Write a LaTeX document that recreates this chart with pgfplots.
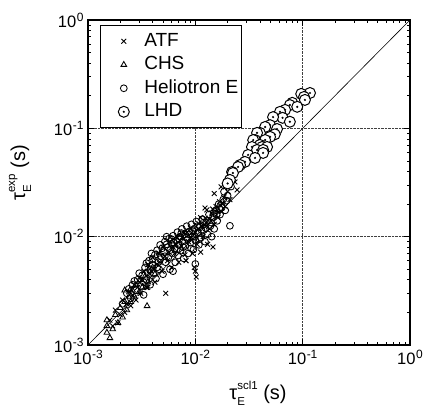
\documentclass[border=0pt]{standalone}
\usepackage{fontspec}
\setmainfont{Liberation Sans}
\usepackage{pgfplots}
\pgfplotsset{compat=1.18}
\usepackage{pgfplotstable}

\newcommand{\tsup}[1]{\kern0.5pt\raisebox{6pt}{\fontsize{12}{12}\selectfont #1}}
\newcommand{\taulab}[1]{τ\rlap{\raisebox{-6pt}{\fontsize{11.5}{12}\selectfont E}}\raisebox{10pt}{\fontsize{11.5}{12}\selectfont #1}\ (s)}

\pgfdeclareplotmark{odot}{%
  \pgfpathcircle{\pgfpointorigin}{\pgfplotmarksize}%
  \pgfusepathqfillstroke
  \begin{pgfscope}%
  \pgfsetfillcolor{black}%
  \pgfpathcircle{\pgfpointorigin}{0.22\pgfplotmarksize}%
  \pgfusepathqfill
  \end{pgfscope}%
}

\pgfplotsset{legimg/.style={legend image code/.code={\path (0pt,0pt) (40pt,0pt); \draw[##1] plot coordinates {(20pt,0pt)};}}}

\pgfplotstableread{
x y
0.0016 0.0017
0.0017 0.0015
0.0018 0.0021
0.0019 0.0016
0.0020 0.0019
0.0021 0.0026
0.0022 0.0020
0.0023 0.0024
0.0024 0.0031
0.0025 0.0023
0.0026 0.0029
0.0027 0.0036
0.0028 0.0026
0.0029 0.0034
0.0030 0.0042
0.0031 0.0030
0.0032 0.0040
0.0033 0.0048
0.0035 0.0034
0.0036 0.0055
0.0036 0.0034
0.0037 0.0046
0.0038 0.0042
0.0040 0.0064
0.0041 0.0050
0.0042 0.0038
0.0044 0.0056
0.0045 0.0071
0.0046 0.0070
0.0047 0.0058
0.0049 0.0048
0.0050 0.0080
0.0052 0.0066
0.0053 0.0030
0.0055 0.0060
0.0057 0.0072
0.0058 0.0090
0.0060 0.0052
0.0062 0.0080
0.0064 0.0070
0.0066 0.0086
0.0068 0.0098
0.0070 0.0058
0.0072 0.0092
0.0074 0.0082
0.0076 0.0100
0.0078 0.0108
0.0080 0.0068
0.0082 0.0060
0.0084 0.0110
0.0086 0.0090
0.0090 0.0120
0.0092 0.0098
0.0094 0.0070
0.0098 0.0052
0.0100 0.0110
0.0102 0.00425
0.0100 0.0048
0.0104 0.0085
0.0106 0.0118
0.0108 0.0132
0.0112 0.0072
0.0115 0.0125
0.0118 0.0100
0.0122 0.0130
0.0123 0.0184
0.0124 0.0148
0.0128 0.0177
0.0130 0.0085
0.0135 0.0145
0.0136 0.0118
0.0142 0.0165
0.0145 0.0180
0.0146 0.00804
0.0150 0.0130
0.0156 0.0190
0.0160 0.0175
0.0162 0.0150
0.0168 0.0210
0.0172 0.0195
0.0174 0.0288
0.0176 0.0170
0.0180 0.0205
0.0184 0.0230
0.0190 0.0190
0.0200 0.0260
0.0210 0.0220
0.0234 0.0320
0.0245 0.0270
0.0150 0.0250
0.0112 0.0150
}\atf

\pgfplotstableread{
x y
0.0015 0.0013
0.0015 0.0015
0.0016 0.00116
0.0015 0.0017
0.0017 0.0014
0.0018 0.0019
0.0019 0.0016
0.0020 0.0022
0.0021 0.0018
0.0022 0.0025
0.0023 0.0021
0.0024 0.0028
0.0025 0.0025
0.0026 0.0032
0.0027 0.0028
0.0028 0.0036
0.0030 0.0031
0.0031 0.0040
0.0032 0.0034
0.0034 0.0043
0.0036 0.0038
0.0038 0.0048
0.00355 0.00229
0.0040 0.0052
0.0042 0.0045
0.0022 0.0032
0.00246 0.0032
}\chs

\pgfplotstableread{
x y
0.0021 0.0024
0.0023 0.0030
0.0024 0.0033
0.0025 0.0027
0.0026 0.0036
0.0027 0.0039
0.0028 0.0032
0.0029 0.0040
0.0030 0.0046
0.0031 0.0035
0.0032 0.0044
0.0033 0.0029
0.0033 0.0038
0.0034 0.0052
0.0035 0.0040
0.0035 0.0057
0.0036 0.0047
0.0037 0.0060
0.0038 0.0036
0.0038 0.0050
0.0039 0.0070
0.0040 0.0055
0.0040 0.0062
0.0041 0.0046
0.0042 0.0068
0.0043 0.0041
0.0044 0.0075
0.0044 0.0052
0.0045 0.0058
0.0046 0.0050
0.0047 0.0084
0.0047 0.0062
0.0048 0.0066
0.0049 0.0078
0.0050 0.0045
0.0051 0.0072
0.0052 0.0090
0.0052 0.0066
0.0053 0.0058
0.0054 0.0100
0.0054 0.0085
0.0055 0.0080
0.0056 0.0064
0.0057 0.0096
0.0058 0.0050
0.0058 0.0075
0.0060 0.0086
0.0060 0.0095
0.0061 0.0070
0.0062 0.0102
0.0062 0.0048
0.0063 0.0088
0.0064 0.0078
0.0065 0.0058
0.0066 0.0092
0.0067 0.0076
0.0068 0.0110
0.0069 0.0067
0.0070 0.0084
0.0071 0.0095
0.0072 0.0100
0.0073 0.0074
0.0074 0.0108
0.0075 0.0118
0.0076 0.0090
0.0077 0.0080
0.0078 0.0063
0.0080 0.0105
0.0081 0.0082
0.0082 0.0098
0.0083 0.0125
0.0085 0.0095
0.0086 0.0070
0.0087 0.0105
0.0088 0.0112
0.0090 0.0088
0.0091 0.0078
0.0092 0.0130
0.0094 0.0100
0.0095 0.0112
0.0096 0.0076
0.0098 0.0118
0.0099 0.0100
0.0100 0.0092
0.0100 0.0056
0.0102 0.0138
0.0104 0.0125
0.0105 0.0108
0.0108 0.0084
0.0109 0.0095
0.0110 0.0125
0.0113 0.0098
0.0114 0.0115
0.0116 0.0145
0.0119 0.0135
0.0120 0.0115
0.0123 0.0090
0.0125 0.0120
0.0126 0.0135
0.0130 0.0105
0.0132 0.0140
0.0134 0.0160
0.0138 0.0125
0.0140 0.0135
0.0142 0.0100
0.0146 0.0150
0.0148 0.0165
0.0150 0.0118
0.0155 0.0175
0.0158 0.0160
0.0160 0.0140
0.0165 0.0200
0.0168 0.0180
0.0170 0.0160
0.0176 0.0185
0.0182 0.0220
0.0185 0.0260
0.0190 0.0175
0.0195 0.0215
0.0200 0.0240
0.0215 0.0290
0.0210 0.0126
}\he

\pgfplotstableread{
x y
0.117 0.212
0.097 0.208
0.103 0.195
0.105 0.183
0.080 0.172
0.076 0.164
0.089 0.158
0.0686 0.148
0.0615 0.142
0.065 0.125
0.053 0.127
0.076 0.115
0.0497 0.107
0.0447 0.103
0.0577 0.0986
0.040 0.0908
0.0376 0.0908
0.055 0.088
0.0497 0.0834
0.036 0.078
0.0447 0.078
0.0346 0.078
0.040 0.0703
0.0337 0.0673
0.0419 0.0673
0.0466 0.0673
0.0376 0.0632
0.0428 0.0632
0.0428 0.0593
0.031 0.0568
0.036 0.0533
0.029 0.049
0.0261 0.0459
0.025 0.044
0.022 0.0396
0.0224 0.0387
0.021 0.0334
0.020 0.031
}\lhd

\begin{document}
\begin{tikzpicture}
\begin{axis}[
  name=ax,
  xmode=log, ymode=log,
  xmin=1e-3, xmax=1, ymin=1e-3, ymax=1,
  scale only axis, width=322pt, height=325pt,
  xtick={1e-3,1e-2,1e-1,1}, ytick={1e-3,1e-2,1e-1,1},
  xticklabels={10\tsup{-3},10\tsup{-2},10\tsup{-1},10\tsup{0}},
  yticklabels={10\tsup{-3},10\tsup{-2},10\tsup{-1},10\tsup{0}},
  ticklabel style={font=\fontsize{16.5}{19}\selectfont},
  xticklabel style={yshift=-2pt},
  yticklabel style={xshift=-1pt},
  tick align=inside,
  major tick length=6pt, minor tick length=3.5pt,
  every tick/.style={black, line width=0.6pt},
  axis line style={line width=1.1pt},
  grid=major,
  major grid style={densely dotted, black!75, line width=0.5pt},
  xlabel={\taulab{scl1}},
  ylabel={\taulab{exp}},
  label style={font=\fontsize{20}{22}\selectfont},
  xlabel style={at={(axis description cs:0.528,-0.169)}, anchor=base},
  ylabel style={at={(axis description cs:-0.211,0.53)}, anchor=center, rotate=0},
  legend style={at={(axis description cs:0.037,0.985)}, anchor=north west,
    draw=black, line width=0.8pt, fill=white, font=\fontsize{19}{21}\selectfont,
    row sep=5.5pt, inner xsep=3pt, inner ysep=7pt,
    nodes={inner sep=0pt, text height=14pt, text depth=4pt}},
  legend cell align=left,
]
\addplot[black, line width=0.6pt, forget plot] coordinates {(0.001,0.001) (1,1)};
\addplot[only marks, mark=x, mark size=3.4pt, black, line width=0.9pt, legimg] table {\atf};
\addplot[only marks, mark=triangle, mark size=3.3pt, black, line width=0.85pt, legimg] table {\chs};
\addplot[only marks, mark=o, mark size=3.4pt, black, line width=0.85pt, legimg] table {\he};
\addplot[only marks, mark=odot, mark size=5.5pt, black, fill=white, line width=1pt, legimg] table {\lhd};
\legend{ATF, CHS, Heliotron E, LHD}
\end{axis}
\pgfresetboundingbox
\path[use as bounding box] ([shift={(-88pt,-62pt)}]ax.south west) rectangle ([shift={(338pt,345pt)}]ax.south west);
\end{tikzpicture}
\end{document}
